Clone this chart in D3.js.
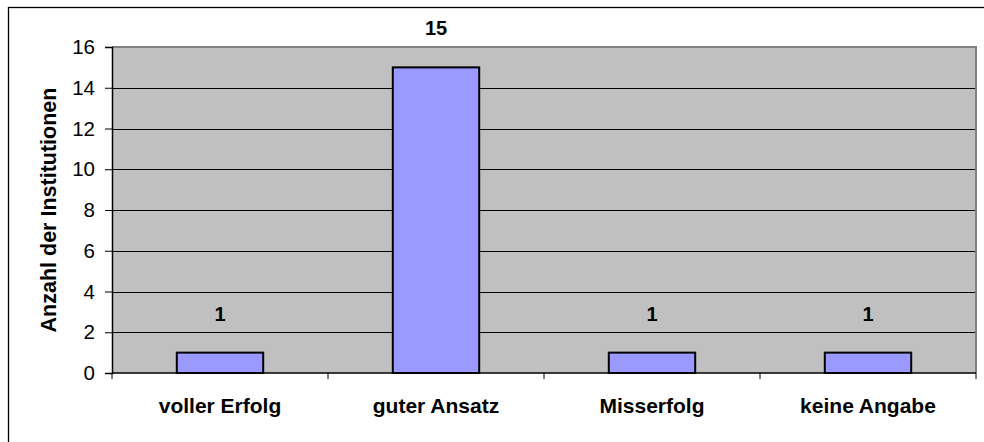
<!DOCTYPE html>
<html>
<head>
<meta charset="utf-8">
<script src="https://cdn.jsdelivr.net/npm/d3@7"></script>
<style>
  body { margin: 0; background: #fff; }
  svg text { font-family: "Liberation Sans", Arial, sans-serif; fill: #000; }
</style>
</head>
<body>
<div id="chart"></div>
<script>
var categories = ['voller Erfolg', 'guter Ansatz', 'Misserfolg', 'keine Angabe']
var values = [1, 15, 1, 1]
var yTicks = [0, 2, 4, 6, 8, 10, 12, 14, 16]
var yTitle = 'Anzahl der Institutionen'

var width = 984, height = 442
var plot = {left: 112, top: 47, right: 976, bottom: 373}

var svg = d3.select('#chart').append('svg')
  .attr('width', width).attr('height', height)

// outer chart frame (runs past right/bottom edges)
svg.append('rect')
  .attr('x', 8.5).attr('y', 7.5)
  .attr('width', 1000).attr('height', 450)
  .attr('fill', '#fff').attr('stroke', '#000').attr('stroke-width', 1.3)

var x = d3.scaleBand().domain(categories)
  .range([plot.left, plot.right]).paddingInner(0.6).paddingOuter(0.3)
var xb = d3.scaleBand().domain(categories).range([plot.left, plot.right])
var y = d3.scaleLinear().domain([0, 16]).range([plot.bottom, plot.top])

// plot background
svg.append('rect')
  .attr('x', plot.left).attr('y', plot.top)
  .attr('width', plot.right - plot.left).attr('height', plot.bottom - plot.top)
  .attr('fill', '#c0c0c0')

// grid
svg.append('g').selectAll('line')
  .data(yTicks.filter(function(d){ return d > 0 && d < 16 }))
  .join('line')
  .attr('x1', plot.left).attr('x2', plot.right)
  .attr('y1', function(d){ return Math.round(y(d)) + 0.5 })
  .attr('y2', function(d){ return Math.round(y(d)) + 0.5 })
  .attr('stroke', '#000').attr('stroke-width', 1)

// plot border (grey top/right)
svg.append('path')
  .attr('d', 'M' + plot.left + ',' + plot.top + 'H' + plot.right + 'V' + plot.bottom)
  .attr('fill', 'none').attr('stroke', '#808080').attr('stroke-width', 2)

// bars
svg.append('g').selectAll('rect')
  .data(values)
  .join('rect')
  .attr('x', function(d, i){ return x(categories[i]) })
  .attr('width', x.bandwidth())
  .attr('y', function(d){ return y(d) })
  .attr('height', function(d){ return y(0) - y(d) })
  .attr('fill', '#9999ff').attr('stroke', '#000').attr('stroke-width', 2)

// value labels
svg.append('g').selectAll('text')
  .data(values)
  .join('text')
  .attr('x', function(d, i){ return x(categories[i]) + x.bandwidth() / 2 })
  .attr('y', function(d){ return y(d) - 32 })
  .attr('text-anchor', 'middle')
  .attr('font-size', 20).attr('font-weight', 'bold')
  .text(function(d){ return d })

// y axis
var yAxis = d3.axisLeft(y).tickValues(yTicks).tickSize(7).tickPadding(10)
var yg = svg.append('g').attr('transform', 'translate(' + plot.left + ',0)').call(yAxis)
yg.select('.domain').attr('stroke', '#000').attr('stroke-width', 1.5)
yg.selectAll('.tick line').attr('stroke', '#000')
yg.selectAll('.tick text').attr('font-size', 20.5).attr('font-family', '"Liberation Sans", Arial, sans-serif')

// x axis: ticks at category boundaries
var xg = svg.append('g')
xg.append('line')
  .attr('x1', plot.left).attr('x2', plot.right)
  .attr('y1', plot.bottom).attr('y2', plot.bottom)
  .attr('stroke', '#000').attr('stroke-width', 1.5)
xg.selectAll('line.tk')
  .data(categories.concat(['end']))
  .join('line').attr('class', 'tk')
  .attr('x1', function(d, i){ return i < categories.length ? xb(d) : plot.right })
  .attr('x2', function(d, i){ return i < categories.length ? xb(d) : plot.right })
  .attr('y1', plot.bottom).attr('y2', plot.bottom + 6)
  .attr('stroke', '#000')
xg.selectAll('text')
  .data(categories)
  .join('text')
  .attr('x', function(d){ return xb(d) + xb.bandwidth() / 2 })
  .attr('y', 413)
  .attr('text-anchor', 'middle')
  .attr('font-size', 21).attr('font-weight', 'bold')
  .text(function(d){ return d })

// y title
svg.append('text')
  .attr('transform', 'translate(56,' + ((plot.top + plot.bottom) / 2) + ') rotate(-90)')
  .attr('text-anchor', 'middle')
  .attr('font-size', 21.5).attr('font-weight', 'bold')
  .text(yTitle)
</script>
</body>
</html>
